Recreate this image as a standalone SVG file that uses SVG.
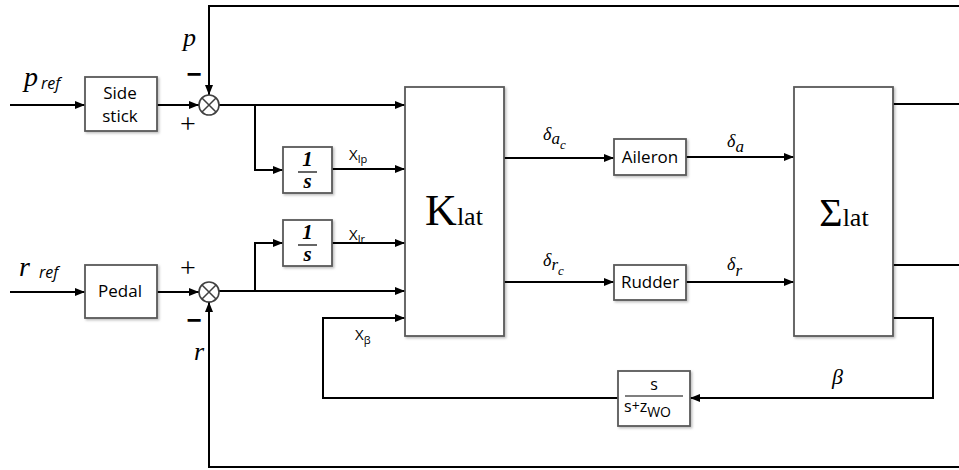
<svg xmlns="http://www.w3.org/2000/svg" width="959" height="470" viewBox="0 0 959 470">
<defs>
<marker id="arr" viewBox="0 0 10 10" refX="10" refY="5" markerWidth="10" markerHeight="10" markerUnits="userSpaceOnUse" orient="auto">
<path d="M0,1 L10,5 L0,9 z" fill="#000"/>
</marker>
<filter id="sh" x="-10%" y="-10%" width="130%" height="130%">
<feDropShadow dx="1.5" dy="1.5" stdDeviation="1" flood-color="#000" flood-opacity="0.25"/>
</filter>
</defs>
<style>
.box{fill:#fff;stroke:#595959;stroke-width:1.8;filter:url(#sh)}
.ln{fill:none;stroke:#000;stroke-width:2}
.a{marker-end:url(#arr)}
.sum{fill:#fff;stroke:#404040;stroke-width:1.6}
.sx{stroke:#404040;stroke-width:1.5}
.lbl{font-family:"Open Sans","Liberation Sans",Arial,sans-serif;font-size:17px;fill:#000;text-anchor:middle}
.it{font-family:"Liberation Serif","Times New Roman",serif;font-style:italic;fill:#000}
.sr{font-family:"Liberation Serif","Times New Roman",serif;fill:#000}
.sn{font-family:"Liberation Sans",Arial,sans-serif;fill:#000}
.os{font-family:"Open Sans","Liberation Sans",Arial,sans-serif;fill:#000}
</style>
<rect width="959" height="470" fill="#fff"/>

<g id="connectors">
<path class="ln a" d="M10 105 H85"/>
<path class="ln a" d="M157 105 H199"/>
<path class="ln a" d="M959 6 H209 V95"/>
<path class="ln a" d="M219 105 H405"/>
<path class="ln a" d="M255 105 V170 H283"/>
<path class="ln a" d="M332 169 H405"/>
<path class="ln a" d="M10 292 H85"/>
<path class="ln a" d="M157 292 H199"/>
<path class="ln a" d="M219 291 H405"/>
<path class="ln a" d="M255 291 V243 H283"/>
<path class="ln a" d="M332 243 H405"/>
<path class="ln a" d="M959 467 H209 V302"/>
<path class="ln a" d="M504 158 H614"/>
<path class="ln a" d="M504 282 H614"/>
<path class="ln a" d="M686 157 H794"/>
<path class="ln a" d="M686 282 H794"/>
<path class="ln" d="M893 104 H959"/>
<path class="ln" d="M893 265 H959"/>
<path class="ln a" d="M893 318 H933 V398 H690"/>
<path class="ln a" d="M618 398 H323 V318 H405"/>
</g>

<g id="sum1">
<circle class="sum" cx="209" cy="105" r="10"/>
<path class="sx" d="M202 98 L216 112 M216 98 L202 112"/>
</g>
<g id="sum2">
<circle class="sum" cx="209" cy="292" r="10"/>
<path class="sx" d="M202 285 L216 299 M216 285 L202 299"/>
</g>

<g id="sidestick">
<rect class="box" x="85" y="77" width="72" height="54"/>
<text class="lbl" x="120" y="99">Side</text>
<text class="lbl" x="120" y="122">stick</text>
</g>
<g id="pedal">
<rect class="box" x="85" y="265" width="72" height="53"/>
<text class="lbl" x="120" y="297">Pedal</text>
</g>
<g id="int_p">
<rect class="box" x="283" y="147" width="49" height="46"/>
<text class="sr" x="307.5" y="166" font-size="21" font-weight="bold" font-style="italic" text-anchor="middle">1</text>
<line x1="298" y1="172" x2="317" y2="172" stroke="#000" stroke-width="1.2"/>
<text class="sr" x="307.5" y="188" font-size="21" font-weight="bold" font-style="italic" text-anchor="middle">s</text>
</g>
<g id="int_r">
<rect class="box" x="283" y="220" width="49" height="46"/>
<text class="sr" x="307.5" y="239" font-size="21" font-weight="bold" font-style="italic" text-anchor="middle">1</text>
<line x1="298" y1="245" x2="317" y2="245" stroke="#000" stroke-width="1.2"/>
<text class="sr" x="307.5" y="261" font-size="21" font-weight="bold" font-style="italic" text-anchor="middle">s</text>
</g>
<g id="klat">
<rect class="box" x="405" y="87" width="99" height="249"/>
<text class="sr" x="454" y="225" text-anchor="middle"><tspan font-size="44">K</tspan><tspan font-size="26">lat</tspan></text>
</g>
<g id="aileron">
<rect class="box" x="614" y="139" width="72" height="36"/>
<text class="lbl" x="650" y="163">Aileron</text>
</g>
<g id="rudder">
<rect class="box" x="614" y="265" width="72" height="35"/>
<text class="lbl" x="650" y="288">Rudder</text>
</g>
<g id="sigmalat">
<rect class="box" x="794" y="87" width="99" height="249"/>
<text class="sr" x="844" y="226" text-anchor="middle"><tspan font-size="40">Σ</tspan><tspan font-size="26">lat</tspan></text>
</g>
<g id="washout">
<rect class="box" x="618" y="371" width="72" height="55"/>
<text class="os" x="654" y="390" font-size="16" text-anchor="middle">s</text>
<line x1="625" y1="396" x2="683" y2="396" stroke="#000" stroke-width="1.2"/>
<text class="os" x="624" y="412" font-size="16">s<tspan font-size="14" dy="-1">+</tspan><tspan dy="1">z</tspan><tspan font-size="14" dy="5">WO</tspan></text>
</g>

<g id="labels">
<text class="it" x="24" y="86" font-size="28">p</text>
<text class="os" x="41" y="89" font-size="16" font-style="italic">ref</text>
<text class="it" x="19" y="276" font-size="28">r</text>
<text class="os" x="39" y="278" font-size="16" font-style="italic">ref</text>
<text class="it" x="183" y="46" font-size="26">p</text>
<text class="sn" x="194" y="83" font-size="26" font-weight="bold" text-anchor="middle">−</text>
<text class="sr" x="188" y="133" font-size="28" text-anchor="middle">+</text>
<text class="sr" x="188" y="277" font-size="28" text-anchor="middle">+</text>
<text class="sn" x="194" y="329" font-size="26" font-weight="bold" text-anchor="middle">−</text>
<text class="it" x="194" y="360" font-size="26">r</text>
<text class="os" x="349" y="160" font-size="15">X<tspan font-size="11" dy="3">lp</tspan></text>
<text class="os" x="349" y="240" font-size="15">X<tspan font-size="11" dy="3">lr</tspan></text>
<text class="os" x="355" y="340" font-size="15">X<tspan font-size="11" dy="4">β</tspan></text>
<text class="it" x="543" y="140" font-size="18">δ<tspan font-size="17" dy="4">a</tspan><tspan font-size="13" dy="5">c</tspan></text>
<text class="it" x="543" y="266" font-size="18">δ<tspan font-size="17" dy="4">r</tspan><tspan font-size="13" dy="5">c</tspan></text>
<text class="it" x="727" y="147" font-size="18">δ<tspan font-size="17" dy="5">a</tspan></text>
<text class="it" x="727" y="270" font-size="18">δ<tspan font-size="17" dy="6">r</tspan></text>
<text class="it" x="832" y="384" font-size="22">β</text>
</g>
</svg>
